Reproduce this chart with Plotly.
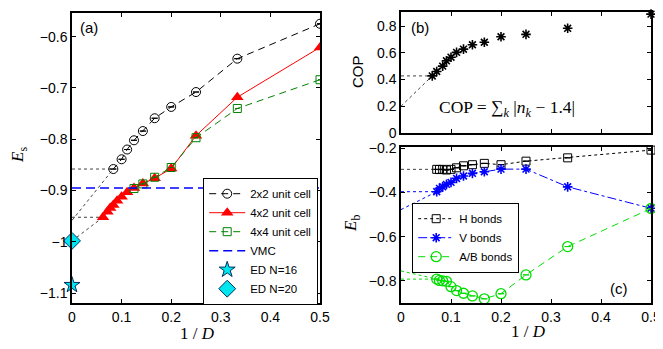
import plotly.graph_objects as go

W, H = 663, 349
# the page body has an 8px margin; positions below are compensated for it
OFF = 8

# ---------------- data ----------------
D_2x2 = [2, 3, 4, 5, 6, 7, 8, 9, 10, 12]
E_2x2 = [-0.575, -0.643, -0.708, -0.737, -0.759, -0.784, -0.802, -0.820, -0.839, -0.858]
D_4x2 = [2, 3, 4, 5, 6, 7, 8, 9, 10, 11, 12, 13, 14, 16]
E_4x2 = [-0.621, -0.718, -0.793, -0.857, -0.876, -0.886, -0.895, -0.903, -0.912,
         -0.920, -0.928, -0.934, -0.941, -0.952]
D_4x4 = [2, 3, 4, 5, 6, 7, 8]
E_4x4 = [-0.684, -0.740, -0.797, -0.855, -0.874, -0.887, -0.896]
E_VMC = -0.895
E_ED16 = -1.084
E_ED20 = -0.998
EXTRAP_2x2 = -0.958
EXTRAP_4x2 = -0.998

D_cop = [2, 3, 4, 5, 6, 7, 8, 9, 10, 11, 12, 14, 16]
COP = [0.889, 0.783, 0.738, 0.720, 0.679, 0.660, 0.627, 0.603, 0.567, 0.540, 0.500, 0.460, 0.427]
EXTRAP_COP = 0.2

D_bond = [2, 3, 4, 5, 6, 7, 8, 9, 10, 11, 12, 13, 14]
E_H = [-0.209, -0.244, -0.259, -0.275, -0.269, -0.275, -0.280, -0.289, -0.296,
       -0.299, -0.296, -0.297, -0.296]
E_V = [-0.472, -0.375, -0.295, -0.295, -0.307, -0.314, -0.326, -0.337, -0.355,
       -0.364, -0.375, -0.382, -0.397]
E_AB = [-0.473, -0.645, -0.773, -0.858, -0.881, -0.868, -0.856, -0.844, -0.826,
        -0.802, -0.800, -0.798, -0.792]
EXTRAP_V = -0.478
EXTRAP_AB = -0.755

xticks = [0, 0.1, 0.2, 0.3, 0.4, 0.5]
xticktext = ["0", "0.1", "0.2", "0.3", "0.4", "0.5"]
yticks_a = [-0.6, -0.7, -0.8, -0.9, -1.0, -1.1]
yticktext_a = ["\u22120.6", "\u22120.7", "\u22120.8", "\u22120.9", "\u22121", "\u22121.1"]
yticks_b = [0, 0.2, 0.4, 0.6, 0.8]
yticktext_b = ["0", "0.2", "0.4", "0.6", "0.8"]
yticks_c = [-0.2, -0.4, -0.6, -0.8]
yticktext_c = ["\u22120.2", "\u22120.4", "\u22120.6", "\u22120.8"]


def inv(ds):
    return [1.0 / d for d in ds]


def fx(p):
    return (p - OFF) / W


def fy(p):
    return 1 - (p - OFF) / H


fig = go.Figure()
DOT = dict(color="#444", width=1, dash="dot")

# ---------- panel (a) ----------
x2 = inv(D_2x2)
x42 = inv(D_4x2)
x44 = inv(D_4x4)
fig.add_trace(go.Scatter(x=[0, x2[-1]], y=[E_2x2[-1], E_2x2[-1]], mode="lines", line=DOT,
                         showlegend=False, xaxis="x", yaxis="y", hoverinfo="skip"))
fig.add_trace(go.Scatter(x=[0, x2[-1]], y=[EXTRAP_2x2, E_2x2[-1]], mode="lines", line=DOT,
                         showlegend=False, xaxis="x", yaxis="y", hoverinfo="skip"))
fig.add_trace(go.Scatter(x=[0, x42[-1]], y=[E_4x2[-1], E_4x2[-1]], mode="lines", line=DOT,
                         showlegend=False, xaxis="x", yaxis="y", hoverinfo="skip"))
fig.add_trace(go.Scatter(x=[0, x42[-1]], y=[EXTRAP_4x2, E_4x2[-1]], mode="lines", line=DOT,
                         showlegend=False, xaxis="x", yaxis="y", hoverinfo="skip"))

fig.add_trace(go.Scatter(
    x=x2, y=E_2x2, mode="lines+markers", name="2x2 unit cell",
    line=dict(color="black", width=1, dash="7px,5px"),
    marker=dict(symbol="circle-open", size=9, color="black", line=dict(width=1)),
    error_y=dict(type="data", array=[0] * len(E_2x2), width=3, thickness=1, color="black"),
    xaxis="x", yaxis="y", legend="legend"))
fig.add_trace(go.Scatter(
    x=x42, y=E_4x2, mode="lines+markers", name="4x2 unit cell",
    line=dict(color="red", width=1),
    marker=dict(symbol="triangle-up", size=11, color="red"),
    xaxis="x", yaxis="y", legend="legend"))
fig.add_trace(go.Scatter(
    x=x44, y=E_4x4, mode="lines+markers", name="4x4 unit cell",
    line=dict(color="#008000", width=1, dash="7px,5px"),
    marker=dict(symbol="square-open", size=8, color="#008000", line=dict(width=1)),
    error_y=dict(type="data", array=[0] * len(E_4x4), width=2, thickness=1, color="#008000"),
    xaxis="x", yaxis="y", legend="legend"))
fig.add_trace(go.Scatter(
    x=[0, 0.5], y=[E_VMC, E_VMC], mode="lines", name="VMC",
    line=dict(color="#0000ff", width=1.5, dash="9px,5px"),
    xaxis="x", yaxis="y", legend="legend"))
fig.add_trace(go.Scatter(
    x=[0], y=[E_ED16], mode="markers", name="ED N=16",
    marker=dict(symbol="star", size=12, color="#00e5ee", line=dict(color="#003060", width=1)),
    cliponaxis=False, xaxis="x", yaxis="y", legend="legend"))
fig.add_trace(go.Scatter(
    x=[0], y=[E_ED20], mode="markers", name="ED N=20",
    marker=dict(symbol="diamond", size=13, color="#00e5ee", line=dict(color="#003060", width=1)),
    cliponaxis=False, xaxis="x", yaxis="y", legend="legend"))

# ---------- panel (b) ----------
xc = inv(D_cop)
fig.add_trace(go.Scatter(x=[0, xc[-1]], y=[COP[-1], COP[-1]], mode="lines", line=DOT,
                         showlegend=False, xaxis="x2", yaxis="y2", hoverinfo="skip"))
fig.add_trace(go.Scatter(x=[0, xc[-1]], y=[EXTRAP_COP, COP[-1]], mode="lines", line=DOT,
                         showlegend=False, xaxis="x2", yaxis="y2", hoverinfo="skip"))
fig.add_trace(go.Scatter(
    x=xc, y=COP, mode="markers", showlegend=False,
    marker=dict(symbol="asterisk-open", size=8, color="black", line=dict(width=1.6, color="black")),
    cliponaxis=False, xaxis="x2", yaxis="y2"))

# ---------- panel (c) ----------
xb = inv(D_bond)
GREEN = "#00dd00"
fig.add_trace(go.Scatter(x=[0, xb[-1]], y=[E_H[-1], E_H[-1]], mode="lines", line=DOT,
                         showlegend=False, xaxis="x3", yaxis="y3", hoverinfo="skip"))
fig.add_trace(go.Scatter(x=[0, xb[-1]], y=[E_V[-1], E_V[-1]], mode="lines",
                         line=dict(color="#0000ff", width=1, dash="dot"),
                         showlegend=False, xaxis="x3", yaxis="y3", hoverinfo="skip"))
fig.add_trace(go.Scatter(x=[0, xb[-1]], y=[EXTRAP_V, E_V[-1]], mode="lines",
                         line=dict(color="#0000ff", width=1, dash="dot"),
                         showlegend=False, xaxis="x3", yaxis="y3", hoverinfo="skip"))
fig.add_trace(go.Scatter(x=[0, xb[-1]], y=[E_AB[-1], E_AB[-1]], mode="lines",
                         line=dict(color=GREEN, width=1, dash="dot"),
                         showlegend=False, xaxis="x3", yaxis="y3", hoverinfo="skip"))
fig.add_trace(go.Scatter(x=[0, xb[-1]], y=[EXTRAP_AB, E_AB[-1]], mode="lines",
                         line=dict(color=GREEN, width=1, dash="dot"),
                         showlegend=False, xaxis="x3", yaxis="y3", hoverinfo="skip"))

fig.add_trace(go.Scatter(
    x=xb, y=E_H, mode="lines+markers", name="H bonds",
    line=dict(color="black", width=1, dash="dot"),
    marker=dict(symbol="square-open", size=8, color="black", line=dict(width=1)),
    error_y=dict(type="data", array=[0] * len(E_H), width=3, thickness=1, color="black"),
    cliponaxis=False, xaxis="x3", yaxis="y3", legend="legend2"))
fig.add_trace(go.Scatter(
    x=xb, y=E_V, mode="lines+markers", name="V bonds",
    line=dict(color="#0000ff", width=1, dash="dashdot"),
    marker=dict(symbol="asterisk-open", size=8, color="#0000ff", line=dict(width=1.6, color="#0000ff")),
    cliponaxis=False, xaxis="x3", yaxis="y3", legend="legend2"))
fig.add_trace(go.Scatter(
    x=xb, y=E_AB, mode="lines+markers", name="A/B bonds",
    line=dict(color=GREEN, width=1, dash="7px,5px"),
    marker=dict(symbol="circle-open", size=10, color=GREEN, line=dict(width=1.3)),
    error_y=dict(type="data", array=[0] * len(E_AB), width=3, thickness=1, color=GREEN),
    cliponaxis=False, xaxis="x3", yaxis="y3", legend="legend2"))

TICKFONT = dict(family="Liberation Sans, Arial", size=14, color="black")
axis_common = dict(showline=True, linecolor="black", linewidth=1.5, mirror="ticks",
                   ticks="inside", ticklen=4, tickcolor="black", tickwidth=1,
                   showgrid=False, zeroline=False, tickfont=TICKFONT, automargin=False)

LEGFONT = dict(family="Liberation Sans, Arial", size=11.5, color="black")
fig.update_layout(
    template="none",
    width=W, height=H, autosize=False,
    margin=dict(l=0, r=0, t=0, b=0, pad=0, autoexpand=False),
    paper_bgcolor="white", plot_bgcolor="white",
    xaxis=dict(domain=[fx(72), fx(320)], range=[0, 0.5], anchor="y",
               tickvals=xticks, ticktext=xticktext, **axis_common),
    yaxis=dict(domain=[fy(303), fy(13)], range=[-1.119, -0.554], anchor="x",
               tickvals=yticks_a, ticktext=yticktext_a, **axis_common),
    xaxis2=dict(domain=[fx(401), fx(651)], range=[0, 0.5], anchor="y2",
                tickvals=xticks, showticklabels=False, **axis_common),
    yaxis2=dict(domain=[fy(133), fy(12)], range=[0, 0.905], anchor="x2",
                tickvals=yticks_b, ticktext=yticktext_b, **axis_common),
    xaxis3=dict(domain=[fx(401), fx(651)], range=[0, 0.5], anchor="y3",
                tickvals=xticks, ticktext=xticktext, **axis_common),
    yaxis3=dict(domain=[fy(303), fy(147)], range=[-0.9, -0.195], anchor="x3",
                tickvals=yticks_c, ticktext=yticktext_c, **axis_common),
    legend=dict(x=fx(318), y=fy(178), xanchor="right", yanchor="top",
                bgcolor="white", bordercolor="black", borderwidth=1.2,
                font=LEGFONT, itemwidth=36, tracegroupgap=0),
    legend2=dict(x=fx(412), y=fy(203), xanchor="left", yanchor="top",
                 bgcolor="white", bordercolor="black", borderwidth=1.2,
                 font=LEGFONT, itemwidth=36, tracegroupgap=0),
    showlegend=True,
)

SERIF = "Liberation Serif, Times New Roman, serif"
SANS = "Liberation Sans, Arial"
ann = [
    dict(x=fx(89), y=fy(27), text="(a)", font=dict(family=SANS, size=15)),
    dict(x=fx(420), y=fy(27), text="(b)", font=dict(family=SANS, size=15)),
    dict(x=fx(619), y=fy(288), text="(c)", font=dict(family=SANS, size=15)),
    dict(x=fx(19), y=fy(155), text="<i>E</i><sub>s</sub>", textangle=-90,
         font=dict(family=SERIF, size=17)),
    dict(x=fx(358), y=fy(72), text="COP", textangle=-90,
         font=dict(family=SANS, size=15)),
    dict(x=fx(352), y=fy(224), text="<i>E</i><sub>b</sub>", textangle=-90,
         font=dict(family=SERIF, size=17)),
    dict(x=fx(197), y=fy(333), text="1 / <i>D</i>", font=dict(family=SERIF, size=17)),
    dict(x=fx(528), y=fy(331), text="1 / <i>D</i>", font=dict(family=SERIF, size=17)),
    dict(x=fx(507), y=fy(108),
         text="COP = \u2211<sub><i>k</i></sub> |<i>n</i><sub><i>k</i></sub> \u2212 1.4|",
         font=dict(family=SERIF, size=17.5)),
]
for a in ann:
    a.update(xref="paper", yref="paper", showarrow=False, xanchor="center", yanchor="middle")
    a["font"].setdefault("color", "black")
fig.update_layout(annotations=ann)

fig.write_html("out.html")
